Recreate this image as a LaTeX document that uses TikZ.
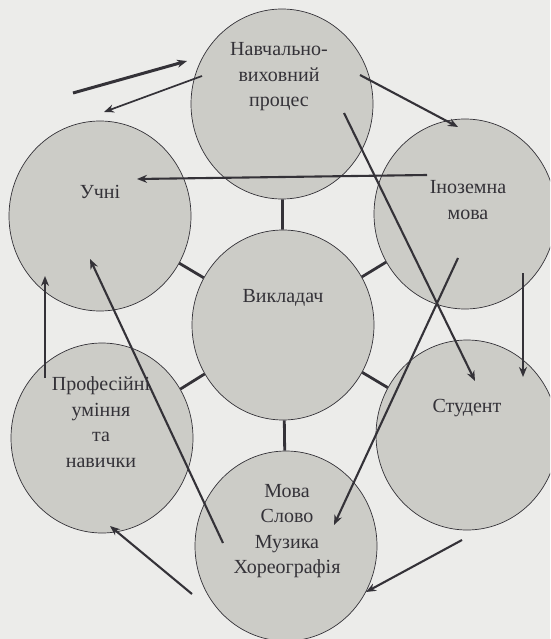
\documentclass[tikz,border=0pt]{standalone}
\usepackage{fontspec}
\setmainfont{Liberation Serif}
\usetikzlibrary{arrows.meta,shapes.geometric}
\definecolor{paper}{RGB}{236,236,234}
\definecolor{disc}{RGB}{204,204,199}
\definecolor{ink}{RGB}{52,50,56}
\tikzset{
  disc/.style={ellipse,draw=ink,line width=0.7pt,fill=disc,minimum width=182pt,minimum height=190pt,inner sep=0pt},
  lbl/.style={align=center,text=ink,font=\fontsize{20}{25.5}\selectfont,inner sep=0pt},
  spoke/.style={draw=ink,line width=2.8pt},
  arr/.style={draw=ink,line width=2.1pt,-{Stealth[length=10pt,width=8pt]}},
  thickarr/.style={arr,line width=3pt},
  thinarr/.style={arr,line width=1.7pt}
}
\begin{document}
\begin{tikzpicture}[x=1pt,y=-1pt]
\fill[paper] (0,0) rectangle (550,639);
\useasboundingbox (0,0) rectangle (550,639);
\begin{scope}
\clip (0,0) rectangle (550,639);
% circles
\node[disc] (nav) at (282,104) {};
\node[disc] (uch) at (100,216) {};
\node[disc] (ino) at (465,214) {};
\node[disc] (vyk) at (283,325) {};
\node[disc] (pro) at (102,438) {};
\node[disc] (stu) at (467,435) {};
\node[disc] (mov) at (286,546) {};
% spokes
\draw[spoke] (vyk) -- (nav);
\draw[spoke] (vyk) -- (uch);
\draw[spoke] (vyk) -- (ino);
\draw[spoke] (vyk) -- (pro);
\draw[spoke] (vyk) -- (stu);
\draw[spoke] (vyk) -- (mov);
% texts
\node[lbl] (tnav) at (279,77) {Навчально-\\виховний\\процес};
\node[lbl] (tuch) at (100,192) {Учні};
\node[lbl] (tino) at (468,200) {Іноземна\\мова};
\node[lbl] (tvyk) at (283,298) {Викладач};
\node[lbl] (tpro) at (101,422) {Професійні\\уміння\\та\\навички};
\node[lbl] (tstu) at (467,408) {Студент};
\node[lbl] (tmov) at (287,531) {Мова\\Слово\\Музика\\Хореографія};
% arrow end points
\coordinate (a1s) at (73,93);   \coordinate (a1e) at (187,61);
\coordinate (a2s) at (202,76);  \coordinate (a2e) at (104,112);
\coordinate (a3s) at (360,75);  \coordinate (a3e) at (458,127);
\coordinate (a4s) at (427,175); \coordinate (a4e) at (137,179);
\coordinate (a5s) at (344,113); \coordinate (a5e) at (475,381);
\coordinate (a6s) at (458,258); \coordinate (a6e) at (334,525);
\coordinate (a7s) at (523,273); \coordinate (a7e) at (523,377);
\coordinate (a8s) at (45,378);  \coordinate (a8e) at (45,276);
\coordinate (a9s) at (223,543); \coordinate (a9e) at (90,259);
\coordinate (a10s) at (192,594);\coordinate (a10e) at (110,526);
\coordinate (a11s) at (462,540);\coordinate (a11e) at (366,592);
% arrows
\draw[thickarr] (a1s) -- (a1e);
\draw[thinarr] (a2s) -- (a2e);
\draw[arr] (a3s) -- (a3e);
\draw[arr] (a4s) -- (a4e);
\draw[arr] (a5s) -- (a5e);
\draw[arr] (a6s) -- (a6e);
\draw[arr] (a7s) -- (a7e);
\draw[arr] (a8s) -- (a8e);
\draw[arr] (a9s) -- (a9e);
\draw[arr] (a10s) -- (a10e);
\draw[arr] (a11s) -- (a11e);
\end{scope}
\end{tikzpicture}
\end{document}
